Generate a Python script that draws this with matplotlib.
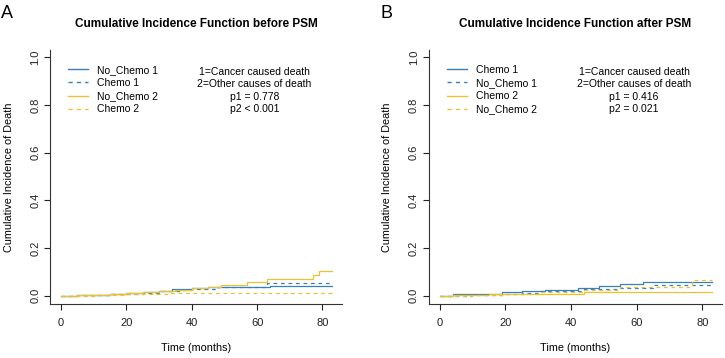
import matplotlib
matplotlib.use("Agg")
import matplotlib.pyplot as plt

plt.rcParams['font.family'] = ['Liberation Sans', 'DejaVu Sans']

blue = '#3a7fb8'
gold = '#ebc232'

# panel A: before PSM
a_nochemo1_t = [0, 5, 10, 15, 20, 25, 30, 34, 40, 45, 64, 83]
a_nochemo1_v = [0, 0.002, 0.004, 0.007, 0.010, 0.015, 0.020, 0.028, 0.034, 0.036, 0.042, 0.042]
a_chemo1_t = [0, 5, 10, 15, 20, 25, 30, 36, 40, 48, 63, 83]
a_chemo1_v = [0, 0.002, 0.004, 0.006, 0.009, 0.013, 0.018, 0.022, 0.028, 0.036, 0.053, 0.053]
a_nochemo2_t = [0, 5, 10, 15, 20, 25, 30, 35, 40, 45, 49, 57, 63, 77, 79, 83]
a_nochemo2_v = [0, 0.002, 0.004, 0.006, 0.010, 0.014, 0.018, 0.024, 0.030, 0.035, 0.045, 0.057,
                0.071, 0.087, 0.105, 0.105]
a_chemo2_t = [0, 10, 20, 25, 33, 83]
a_chemo2_v = [0, 0.003, 0.006, 0.008, 0.011, 0.011]

# panel B: after PSM
b_chemo1_t = [0, 4, 10, 19, 25, 32, 42, 48.5, 55, 62, 83]
b_chemo1_v = [0, 0.006, 0.008, 0.015, 0.018, 0.025, 0.032, 0.039, 0.049, 0.056, 0.056]
b_nochemo1_t = [0, 10, 19, 25, 31, 44, 55, 65, 83]
b_nochemo1_v = [0, 0.002, 0.006, 0.012, 0.018, 0.028, 0.033, 0.043, 0.043]
b_chemo2_t = [0, 4, 15, 44, 83]
b_chemo2_v = [0, 0.003, 0.007, 0.015, 0.015]
b_nochemo2_t = [0, 10, 20, 30, 44, 55, 77, 83]
b_nochemo2_v = [0, 0.002, 0.006, 0.015, 0.025, 0.035, 0.067, 0.067]

xticks = [0, 20, 40, 60, 80]
yticks = [0.0, 0.2, 0.4, 0.6, 0.8, 1.0]

W, H = 725, 358
fig = plt.figure(figsize=(W / 100, H / 100), dpi=100)


def make_panel(left, right, letter, letter_x, title, series, notes, leg_x):
    ax = fig.add_axes([left / W, 54 / H, (right - left) / W, 254 / H])
    for t, v, c, ls, lab in series:
        if ls == '--':
            ax.step(t, v, where='post', color=c, lw=0.9, linestyle='--', dashes=(3, 3), label=lab)
        else:
            ax.step(t, v, where='post', color=c, lw=0.9, label=lab)
    ax.set_xlim(-3.4, 86)
    ax.set_ylim(-0.035, 1.03)
    ax.set_xticks(xticks)
    ax.set_yticks(yticks)
    ax.set_yticklabels(['%.1f' % y for y in yticks], rotation=90, va='center')
    ax.tick_params(direction='out', length=4, width=0.8, labelsize=8, colors='#222222')
    ax.tick_params(axis='x', pad=6)
    ax.tick_params(axis='y', pad=3)
    for s in ['top', 'right']:
        ax.spines[s].set_visible(False)
    for s in ['left', 'bottom']:
        ax.spines[s].set_linewidth(0.8)
        ax.spines[s].set_color('#333333')
    ax.set_xlabel('Time (months)', fontsize=7.8, labelpad=11)
    ax.set_ylabel('Cumulative Incidence of Death', fontsize=7.8, labelpad=12)
    fig.text((left + right) / 2 / W, 1 - 24 / H, title, ha='center', va='center',
             fontsize=8.5, fontweight='bold')
    fig.text(letter_x / W, 1 - 14 / H, letter, ha='left', va='center', fontsize=13)
    leg = ax.legend(loc='upper left', bbox_to_anchor=(leg_x / W, 1 - 65 / H),
                    bbox_transform=fig.transFigure, frameon=False, fontsize=7.5,
                    handlelength=1.9, handletextpad=0.9, labelspacing=0.3,
                    borderpad=0, borderaxespad=0)
    for line in leg.get_lines():
        line.set_linewidth(1.0)
    note_x = left + 0.70 * (right - left)
    for i, n in enumerate(notes):
        fig.text(note_x / W, 1 - (72 + 12.4 * i) / H, n,
                 ha='center', va='center', fontsize=7.5)
    return ax


make_panel(50, 342, 'A', 1, 'Cumulative Incidence Function before PSM',
           [(a_nochemo1_t, a_nochemo1_v, blue, '-', 'No_Chemo 1'),
            (a_chemo1_t, a_chemo1_v, blue, '--', 'Chemo 1'),
            (a_nochemo2_t, a_nochemo2_v, gold, '-', 'No_Chemo 2'),
            (a_chemo2_t, a_chemo2_v, gold, '--', 'Chemo 2')],
           ['1=Cancer caused death', '2=Other causes of death', 'p1 = 0.778', 'p2 < 0.001'], 68)

make_panel(428.5, 722, 'B', 380, 'Cumulative Incidence Function after PSM',
           [(b_chemo1_t, b_chemo1_v, blue, '-', 'Chemo 1'),
            (b_nochemo1_t, b_nochemo1_v, blue, '--', 'No_Chemo 1'),
            (b_chemo2_t, b_chemo2_v, gold, '-', 'Chemo 2'),
            (b_nochemo2_t, b_nochemo2_v, gold, '--', 'No_Chemo 2')],
           ['1=Cancer caused death', '2=Other causes of death', 'p1 = 0.416', 'p2 = 0.021'], 447)

fig.savefig('out.png', dpi=100)
